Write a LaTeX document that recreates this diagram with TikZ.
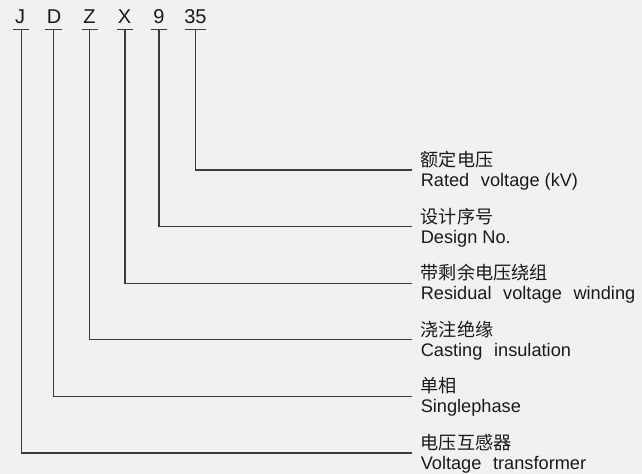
\documentclass[tikz,border=0pt]{standalone}
\usepackage{fontspec}
\setmainfont{Liberation Sans}
\newfontfamily\cjk{Noto Sans CJK SC}
\definecolor{bgc}{HTML}{F1F1F1}
\definecolor{lnc}{HTML}{3C3C3C}
\definecolor{txc}{HTML}{1A1A1A}
\newcommand\dsp{\hspace{0.64em}}
\begin{document}
\begin{tikzpicture}[x=0.75pt,y=-0.75pt,
 ln/.style={draw=lnc, line width=0.8pt},
 letter/.style={inner sep=0, anchor=base, text=txc, font=\fontsize{15}{17}\selectfont},
 cn/.style={inner sep=0, anchor=base west, text=txc, font=\cjk\fontsize{13.6}{15}\selectfont},
 en/.style={inner sep=0, anchor=base west, text=txc, font=\fontsize{13.65}{15}\selectfont}]
\fill[bgc] (0,0) rectangle (642,474);
\useasboundingbox (0,0) rectangle (642,474);
% code letters
\node[letter] (J) at (20,24) {J};
\node[letter] (D) at (54,24) {D};
\node[letter] (Z) at (89.5,24) {Z};
\node[letter] (X) at (124.5,24) {X};
\node[letter] (N) at (159,24) {9};
\node[letter] (V) at (195.5,24) {35};
% underline bars
\coordinate (bJ) at (21.7,29.3);
\coordinate (bD) at (53.3,29.3);
\coordinate (bZ) at (89.3,29.3);
\coordinate (bX) at (125,29.3);
\coordinate (bN) at (159,29.3);
\coordinate (bV) at (195.7,29.3);
\draw[ln] (13.3,29.3) -- (29.3,29.3);
\draw[ln] (45,29.3) -- (61.5,29.3);
\draw[ln] (81.5,29.3) -- (97.7,29.3);
\draw[ln] (116.5,29.3) -- (132.5,29.3);
\draw[ln] (150.5,29.3) -- (166.5,29.3);
\draw[ln] (184.5,29.3) -- (205.7,29.3);
% line ends
\coordinate (eV) at (412,170);
\coordinate (eN) at (412,226.6);
\coordinate (eX) at (412,283.2);
\coordinate (eZ) at (412,339.8);
\coordinate (eD) at (412,396.4);
\coordinate (eJ) at (412,453);
% labels
\node[cn] (cV) at (420.5,166.5) {额定电压};
\node[en] (tV) at (420.5,186.5) {Rated\dsp voltage (kV)};
\node[cn] (cN) at (420.5,223.1) {设计序号};
\node[en] (tN) at (420.5,243.1) {Design No.};
\node[cn] (cX) at (420.5,279.7) {带剩余电压绕组};
\node[en] (tX) at (420.5,299.7) {Residual\dsp voltage\dsp winding};
\node[cn] (cZ) at (420.5,336.3) {浇注绝缘};
\node[en] (tZ) at (420.5,356.3) {Casting\dsp insulation};
\node[cn] (cD) at (420.5,392.9) {单相};
\node[en] (tD) at (420.5,412.9) {Singlephase};
\node[cn] (cJ) at (420.5,449.5) {电压互感器};
\node[en] (tJ) at (420.5,469.5) {Voltage\dsp transformer};
% connectors
\draw[ln] (bV) |- (eV);
\draw[ln] (bN) |- (eN);
\draw[ln] (bX) |- (eX);
\draw[ln] (bZ) |- (eZ);
\draw[ln] (bD) |- (eD);
\draw[ln] (bJ) |- (eJ);
\end{tikzpicture}
\end{document}
